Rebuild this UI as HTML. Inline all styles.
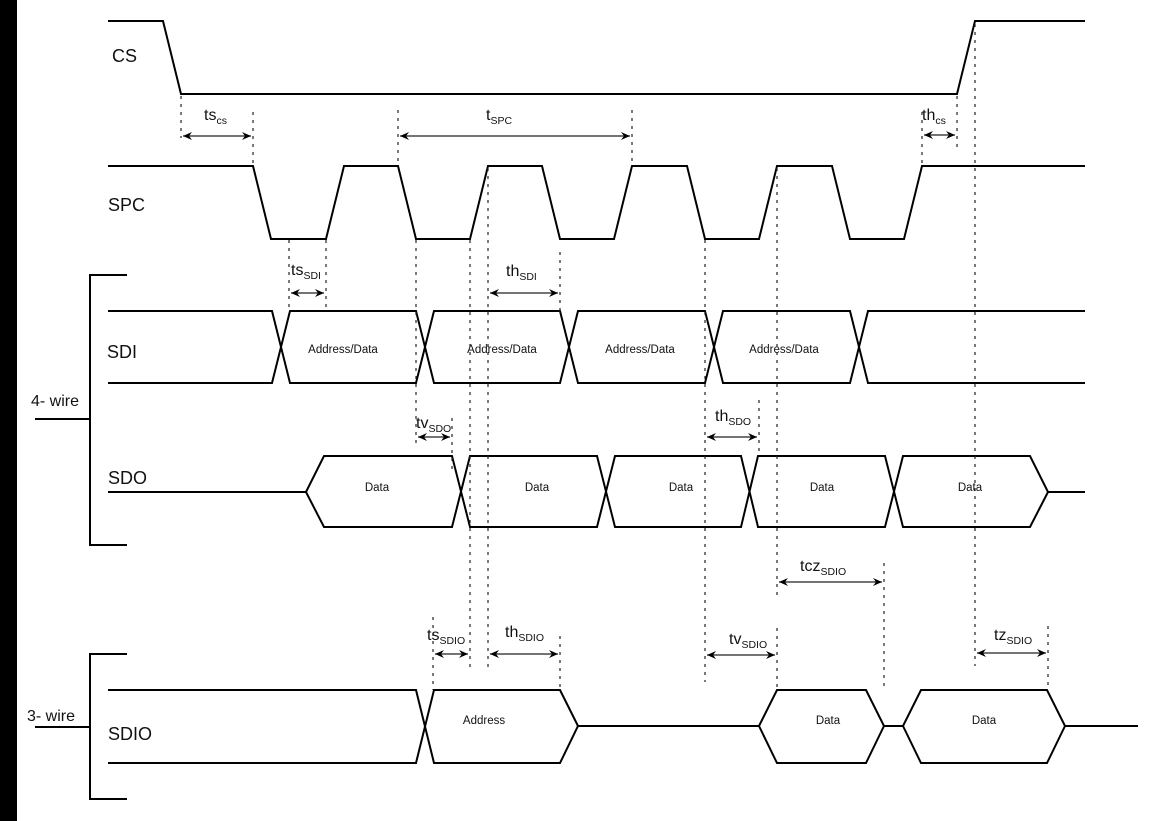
<!DOCTYPE html>
<html><head><meta charset="utf-8"><style>
html,body{margin:0;padding:0;background:#fff;}
svg{display:block;}
text{font-family:"Liberation Sans",Arial,sans-serif;fill:#111;}
.s{stroke:#000;stroke-width:2;fill:none;stroke-linejoin:miter;}
.d{stroke:#222;stroke-width:1.2;stroke-dasharray:3,5;fill:none;}
.a{stroke:#222;stroke-width:1.3;fill:none;}
.lab{font-size:18px;}
.t{font-size:16px;}
.sub{font-size:10.5px;}
.b{font-size:11.5px;}
</style></head><body>
<svg width="1160" height="821" viewBox="0 0 1160 821" xmlns="http://www.w3.org/2000/svg">
<defs>
<marker id="ah" markerWidth="10" markerHeight="8" refX="9" refY="4" orient="auto-start-reverse" markerUnits="userSpaceOnUse">
<path d="M0,0 L9,4 L0,8 L3,4 Z" fill="#000"/>
</marker>
</defs>
<rect x="0" y="0" width="17" height="821" fill="#000"/>

<!-- CS -->
<polyline class="s" points="108,21 163,21 181,94 957,94 975,21 1085,21"/>
<text class="lab" x="112" y="62">CS</text>

<!-- SPC -->
<polyline class="s" points="108,166 253,166 271,239 326,239 344,166 398,166 416,239 470,239 488,166 542,166 560,239 614,239 632,166 687,166 705,239 759,239 777,166 832,166 850,239 904,239 922,166 1085,166"/>
<text class="lab" x="108" y="211">SPC</text>

<!-- SDI -->
<polyline class="s" points="108,311 272,311 290,383 416,383 434,311 560,311 578,383 705,383 723,311 850,311 868,383 1085,383"/>
<polyline class="s" points="108,383 272,383 290,311 416,311 434,383 560,383 578,311 705,311 723,383 850,383 868,311 1085,311"/>
<text class="lab" x="107" y="358">SDI</text>
<text class="b" x="343" y="353" text-anchor="middle">Address/Data</text>
<text class="b" x="502" y="353" text-anchor="middle">Address/Data</text>
<text class="b" x="640" y="353" text-anchor="middle">Address/Data</text>
<text class="b" x="784" y="353" text-anchor="middle">Address/Data</text>

<!-- SDO -->
<polyline class="s" points="108,492 306,492 324,456 452,456 470,527 597,527 615,456 741,456 758,527 885,527 903,456 1030,456 1048,492 1085,492"/>
<polyline class="s" points="306,492 324,527 452,527 470,456 597,456 615,527 741,527 758,456 885,456 903,527 1030,527 1048,492"/>
<text class="lab" x="108" y="484">SDO</text>
<text class="b" x="377" y="491" text-anchor="middle">Data</text>
<text class="b" x="537" y="491" text-anchor="middle">Data</text>
<text class="b" x="681" y="491" text-anchor="middle">Data</text>
<text class="b" x="822" y="491" text-anchor="middle">Data</text>
<text class="b" x="970" y="491" text-anchor="middle">Data</text>

<!-- SDIO -->
<polyline class="s" points="108,690 416,690 434,763 560,763 578,726 759,726 777,690 866,690 884,726 903,726 921,690 1047,690 1065,726 1138,726"/>
<polyline class="s" points="108,763 416,763 434,690 560,690 578,726"/>
<polyline class="s" points="759,726 777,763 866,763 884,726"/>
<polyline class="s" points="903,726 921,763 1047,763 1065,726"/>
<text class="lab" x="108" y="740">SDIO</text>
<text class="b" x="484" y="724" text-anchor="middle">Address</text>
<text class="b" x="828" y="724" text-anchor="middle">Data</text>
<text class="b" x="984" y="724" text-anchor="middle">Data</text>

<!-- brackets -->
<polyline class="s" points="127,275 90,275 90,545 127,545"/>
<line class="s" x1="35" y1="419" x2="90" y2="419"/>
<text class="t" x="31" y="406">4- wire</text>
<polyline class="s" points="127,654 90,654 90,799 127,799"/>
<line class="s" x1="35" y1="727" x2="90" y2="727"/>
<text class="t" x="27" y="721">3- wire</text>

<!-- dashed lines -->
<line class="d" x1="181" y1="96" x2="181" y2="138"/>
<line class="d" x1="253" y1="112" x2="253" y2="166"/>
<line class="d" x1="398" y1="110" x2="398" y2="166"/>
<line class="d" x1="632" y1="110" x2="632" y2="166"/>
<line class="d" x1="922" y1="112" x2="922" y2="166"/>
<line class="d" x1="957" y1="96" x2="957" y2="148"/>
<line class="d" x1="975" y1="24" x2="975" y2="666"/>
<line class="d" x1="289" y1="240" x2="289" y2="311"/>
<line class="d" x1="326" y1="240" x2="326" y2="311"/>
<line class="d" x1="416" y1="240" x2="416" y2="445"/>
<line class="d" x1="452" y1="418" x2="452" y2="470"/>
<line class="d" x1="470" y1="240" x2="470" y2="672"/>
<line class="d" x1="488" y1="168" x2="488" y2="672"/>
<line class="d" x1="560" y1="252" x2="560" y2="311"/>
<line class="d" x1="705" y1="240" x2="705" y2="682"/>
<line class="d" x1="759" y1="400" x2="759" y2="456"/>
<line class="d" x1="777" y1="168" x2="777" y2="600"/>
<line class="d" x1="777" y1="628" x2="777" y2="690"/>
<line class="d" x1="884" y1="563" x2="884" y2="688"/>
<line class="d" x1="433" y1="617" x2="433" y2="690"/>
<line class="d" x1="560" y1="636" x2="560" y2="690"/>
<line class="d" x1="1048" y1="626" x2="1048" y2="690"/>

<!-- arrows -->
<line class="a" x1="183" y1="136" x2="251" y2="136" marker-start="url(#ah)" marker-end="url(#ah)"/>
<line class="a" x1="400" y1="136" x2="630" y2="136" marker-start="url(#ah)" marker-end="url(#ah)"/>
<line class="a" x1="924" y1="135" x2="955" y2="135" marker-start="url(#ah)" marker-end="url(#ah)"/>
<line class="a" x1="291" y1="293" x2="324" y2="293" marker-start="url(#ah)" marker-end="url(#ah)"/>
<line class="a" x1="490" y1="293" x2="558" y2="293" marker-start="url(#ah)" marker-end="url(#ah)"/>
<line class="a" x1="418" y1="437" x2="450" y2="437" marker-start="url(#ah)" marker-end="url(#ah)"/>
<line class="a" x1="707" y1="437" x2="757" y2="437" marker-start="url(#ah)" marker-end="url(#ah)"/>
<line class="a" x1="779" y1="582" x2="882" y2="582" marker-start="url(#ah)" marker-end="url(#ah)"/>
<line class="a" x1="435" y1="654" x2="468" y2="654" marker-start="url(#ah)" marker-end="url(#ah)"/>
<line class="a" x1="490" y1="654" x2="558" y2="654" marker-start="url(#ah)" marker-end="url(#ah)"/>
<line class="a" x1="707" y1="655" x2="775" y2="655" marker-start="url(#ah)" marker-end="url(#ah)"/>
<line class="a" x1="977" y1="653" x2="1046" y2="653" marker-start="url(#ah)" marker-end="url(#ah)"/>

<!-- timing labels -->
<text class="t" x="204" y="120">ts<tspan class="sub" dy="4">cs</tspan></text>
<text class="t" x="486" y="120">t<tspan class="sub" dy="4">SPC</tspan></text>
<text class="t" x="922" y="120">th<tspan class="sub" dy="4">cs</tspan></text>
<text class="t" x="291" y="275">ts<tspan class="sub" dy="4">SDI</tspan></text>
<text class="t" x="506" y="276">th<tspan class="sub" dy="4">SDI</tspan></text>
<text class="t" x="416" y="428">tv<tspan class="sub" dy="4">SDO</tspan></text>
<text class="t" x="715" y="421">th<tspan class="sub" dy="4">SDO</tspan></text>
<text class="t" x="800" y="571">tcz<tspan class="sub" dy="4">SDIO</tspan></text>
<text class="t" x="427" y="640">ts<tspan class="sub" dy="4">SDIO</tspan></text>
<text class="t" x="505" y="637">th<tspan class="sub" dy="4">SDIO</tspan></text>
<text class="t" x="729" y="644">tv<tspan class="sub" dy="4">SDIO</tspan></text>
<text class="t" x="994" y="640">tz<tspan class="sub" dy="4">SDIO</tspan></text>
</svg>
</body></html>
